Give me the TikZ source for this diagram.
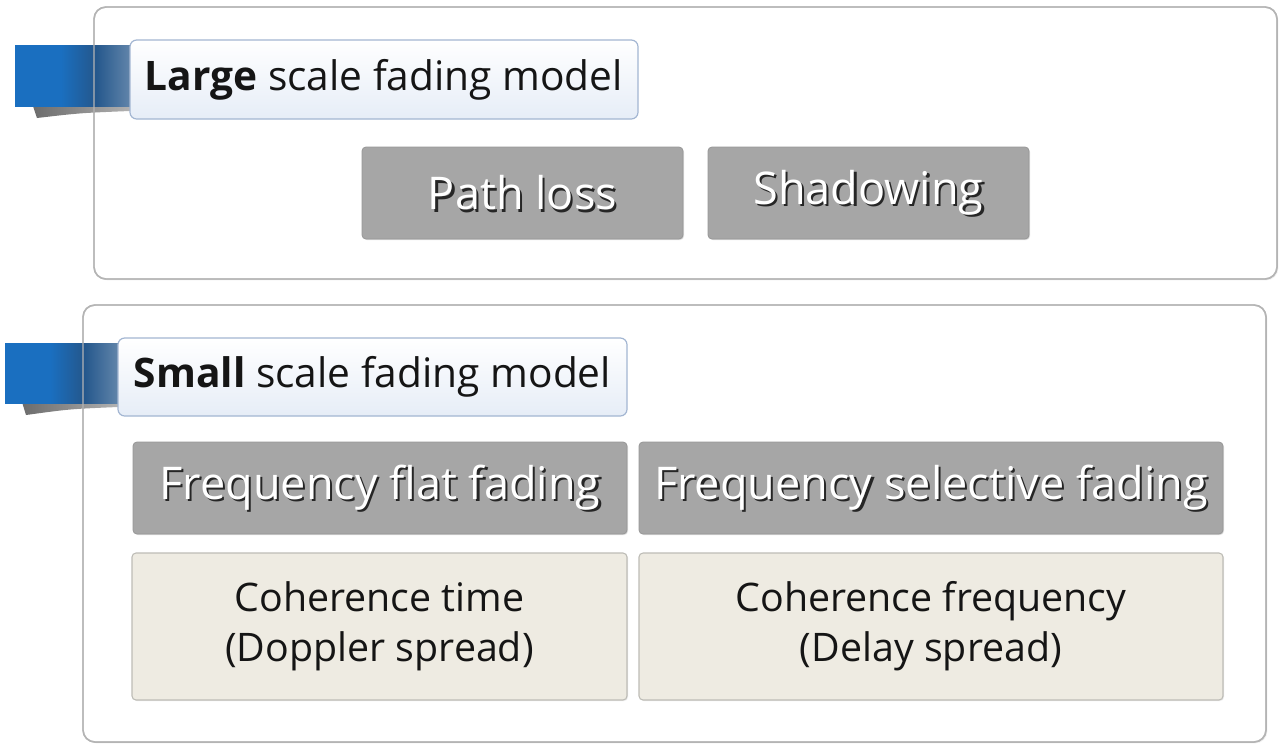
\documentclass[tikz,border=0pt]{standalone}
\usepackage{fontspec}
\setmainfont{Open Sans}
\usetikzlibrary{shadows}
\definecolor{outerline}{HTML}{B4B4B4}
\definecolor{titleline}{HTML}{A3B6D2}
\definecolor{titlebot}{HTML}{E6EDF7}
\definecolor{grayfill}{HTML}{A6A6A6}
\definecolor{grayline}{HTML}{979797}
\definecolor{beigefill}{HTML}{EEEBE2}
\definecolor{beigeline}{HTML}{BDBCB6}
\definecolor{tabblue}{HTML}{1A6FC0}
\definecolor{tabnavy}{HTML}{24578C}
\definecolor{tablight}{HTML}{C7D1DC}
\definecolor{txt}{HTML}{151515}
\pgfdeclarehorizontalshading{tabshade}{100bp}{color(0bp)=(tabblue); color(45bp)=(tabblue); color(60bp)=(tabnavy); color(100bp)=(tablight)}
\pgfdeclarehorizontalshading{slivershade}{100bp}{color(0bp)=(black!70); color(50bp)=(black!45); color(100bp)=(black!15)}
\tikzset{
  outerbox/.style={draw=outerline, line width=1.1pt, fill=white, rounded corners=9pt, inner sep=0pt,
    drop shadow={opacity=0.12, shadow xshift=1pt, shadow yshift=-1pt}},
  titlebox/.style={draw=titleline, line width=0.9pt, rounded corners=5pt, top color=white, bottom color=titlebot,
    inner sep=0pt, font=\fontsize{30.5}{36}\selectfont, text=txt},
  graybox/.style={draw=grayline, line width=0.6pt, fill=grayfill, rounded corners=3pt, inner sep=0pt,
    drop shadow={opacity=0.25, shadow xshift=0.8pt, shadow yshift=-0.8pt}},
  graytxt/.style={inner sep=0pt, text=white, font=\fontsize{33.8}{40}\selectfont},
  grayshadow/.style={inner sep=0pt, text=black!85, font=\fontsize{33.8}{40}\selectfont},
  beigebox/.style={draw=beigeline, line width=0.8pt, fill=beigefill, rounded corners=3pt, inner sep=0pt,
    align=center, text=txt, font=\fontsize{29.5}{37.5}\selectfont,
    drop shadow={opacity=0.15, shadow xshift=0.8pt, shadow yshift=-0.8pt}},
}
\begin{document}
\begin{tikzpicture}[x=0.75pt,y=-0.75pt]
\useasboundingbox (0,0) rectangle (1280,751);
% outer boxes
\node[outerbox, minimum width=887.25pt, minimum height=204pt] (outerA) at (685.5,143) {};
\node[outerbox, minimum width=887.25pt, minimum height=327.75pt] (outerB) at (674.5,523.5) {};
% tabs
\shade[shading=slivershade] (33,106) .. controls (70,102) .. (130,99) -- (130,111) .. controls (80,113) .. (37,118) -- cycle;
\shade[shading=tabshade] (15,45) rectangle (130,106);
\shade[shading=slivershade] (22,402) .. controls (60,398) .. (118,395) -- (118,407) .. controls (70,409) .. (26,415) -- cycle;
\shade[shading=tabshade] (5,343) rectangle (118,403);
% redraw outer borders over tabs
\draw[outerline, line width=1.1pt, rounded corners=9pt] (94,7) rectangle (1277,279);
\draw[outerline, line width=1.1pt, rounded corners=9pt] (83,305) rectangle (1266,742);
% titles
\node[titlebox, minimum width=381pt, minimum height=59.25pt] (titleA) at (384,79.5) {\textbf{Large} scale fading model};
\node[titlebox, minimum width=381.75pt, minimum height=58.5pt] (titleB) at (372.5,377) {\textbf{Small} scale fading model};
% large scale items
\node[graybox, minimum width=240.75pt, minimum height=69pt] (pl) at (522.5,193) {};
\node[grayshadow] (plS) at ([shift={(1.6pt,-1.6pt)}]pl.center) {Path loss};
\node[graytxt] (plT) at (pl.center) {Path loss};
\node[graybox, minimum width=240.75pt, minimum height=69pt] (sh) at (868.5,193) {};
\node[grayshadow] (shS) at ([shift={(1.6pt,-1.6pt)}]sh.center) {Shadowing};
\node[graytxt] (shT) at (sh.center) {Shadowing};
% small scale items
\node[graybox, minimum width=370.5pt, minimum height=69pt] (ff) at (380,488) {};
\node[grayshadow] (ffS) at ([shift={(1.6pt,-1.6pt)}]ff.center) {Frequency flat fading};
\node[graytxt] (ffT) at (ff.center) {Frequency flat fading};
\node[graybox, minimum width=438pt, minimum height=69pt] (fs) at (931,488) {};
\node[grayshadow] (fsS) at ([shift={(1.6pt,-1.6pt)}]fs.center) {Frequency selective fading};
\node[graytxt] (fsT) at (fs.center) {Frequency selective fading};
\node[beigebox, minimum width=371.25pt, minimum height=110.25pt] (ct) at (379.5,626.5) {Coherence time\\(Doppler spread)};
\node[beigebox, minimum width=438pt, minimum height=110.25pt] (cf) at (931,626.5) {Coherence frequency\\(Delay spread)};
\end{tikzpicture}
\end{document}
